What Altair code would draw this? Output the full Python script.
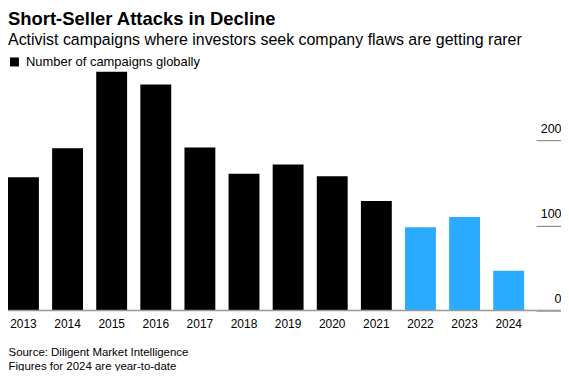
import altair as alt
import pandas as pd

years = ["2013", "2014", "2015", "2016", "2017", "2018", "2019", "2020", "2021", "2022", "2023", "2024"]
counts = [157, 191, 281, 266, 192, 161, 172, 158, 129, 98, 110, 47]
recent_years = ["2022", "2023", "2024"]
series_label = "Number of campaigns globally"
recent_label = "Recent"
y_ticks = [0, 100, 200]
footer = ["Source: Diligent Market Intelligence", "Figures for 2024 are year-to-date"]

kind = [recent_label if y in recent_years else series_label for y in years]
df = pd.DataFrame({"year": years, "count": counts, "kind": kind})
base_df = pd.DataFrame({"count": [0]})

W = 555
H = 247
FONT = "Liberation Sans"

yscale = alt.Scale(domain=[0, 289.7], nice=False)
y_enc = alt.Y(
    "count:Q",
    scale=yscale,
    axis=alt.Axis(
        orient="right", values=y_ticks, offset=-25, tickSize=25, tickColor="#777",
        tickWidth=1, labelAlign="right", labelPadding=0, labelBaseline="alphabetic",
        labelOffset=-8, labelFontSize=12.5, labelColor="#000", labelFont=FONT,
        domain=False, grid=False, title=None,
    ),
)

bars = alt.Chart(df).mark_bar().encode(
    x=alt.X(
        "year:N", sort=years,
        scale=alt.Scale(range=[0, 518], paddingInner=0.3, paddingOuter=0),
        axis=alt.Axis(
            title=footer, titleX=0, titleY=45, titleAlign="left", titleAnchor="start",
            titleBaseline="alphabetic", titleFontSize=11.5, titleFontWeight="normal",
            titleLineHeight=14, titleColor="#000", titleFont=FONT,
            labelAngle=0, labelFontSize=12, labelColor="#000", labelFont=FONT,
            labelBaseline="alphabetic", labelPadding=17, ticks=False, domain=False,
        ),
    ),
    y=y_enc,
    color=alt.Color(
        "kind:N",
        scale=alt.Scale(domain=[series_label, recent_label], range=["#000000", "#2aabff"]),
        legend=alt.Legend(
            orient="none", legendX=0, legendY=-9, title=None, values=[series_label],
            symbolType="square", symbolSize=81, symbolStrokeWidth=0, labelFontSize=13,
            labelColor="#000", labelFont=FONT, labelOffset=5, labelLimit=300, padding=0,
        ),
    ),
)

baseline = alt.Chart(base_df).mark_rule(color="#999", strokeWidth=1.5).encode(
    y=y_enc, x=alt.value(0), x2=alt.value(W)
)

chart = alt.layer(bars, baseline).properties(
    width=W, height=H,
    padding={"left": 0, "top": 56, "right": 0, "bottom": 60},
    autosize=alt.AutoSizeParams(type="none"),
    title=alt.TitleParams(
        text="Short-Seller Attacks in Decline",
        subtitle="Activist campaigns where investors seek company flaws are getting rarer",
        anchor="start", frame="group", font=FONT, fontSize=18.5, fontWeight="bold",
        color="#000", subtitleFont=FONT, subtitleFontSize=16, subtitleColor="#000",
        offset=8, subtitlePadding=3,
    ),
).configure(font=FONT).configure_view(stroke=None)

chart.save("out.html", embed_options={"renderer": "svg", "actions": False})
